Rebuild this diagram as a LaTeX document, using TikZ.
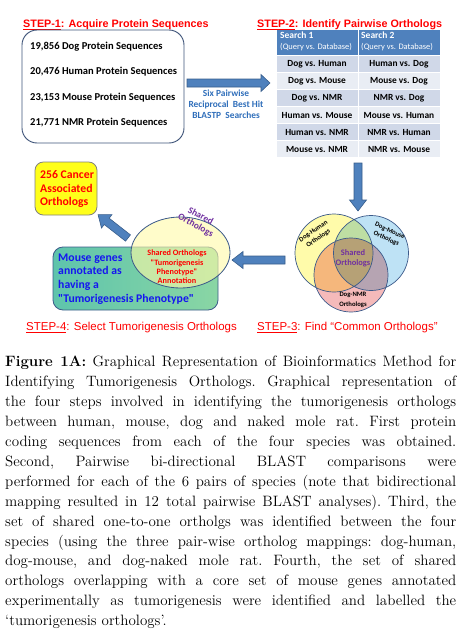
\documentclass[tikz,border=0pt]{standalone}
\usepackage{fontspec}
\usepackage{tikz}
\usetikzlibrary{positioning,calc}
\newfontfamily\calibfont{Carlito}
\newfontfamily\arialfont{Liberation Sans}
\definecolor{stepRed}{HTML}{FF0000}
\definecolor{boxEdge}{HTML}{3F5479}
\definecolor{arrowBlue}{HTML}{4F81BD}
\definecolor{arrowEdge}{HTML}{385D8A}
\definecolor{hitBlue}{HTML}{2F6EBA}
\definecolor{headBlue}{HTML}{4F81BD}
\definecolor{rowDark}{HTML}{D0D8E8}
\definecolor{rowLight}{HTML}{E9EDF4}
\definecolor{vennYellow}{HTML}{FFFBAA}
\definecolor{vennBlue}{HTML}{BEE2F5}
\definecolor{vennPink}{HTML}{F5BABA}
\definecolor{vennEdge}{HTML}{3C5A8A}
\definecolor{cancerYellow}{HTML}{FFFF1A}
\definecolor{mintLeft}{HTML}{5EC4AC}
\definecolor{mintRight}{HTML}{8AD6A4}
\definecolor{geneBlue}{HTML}{1515F0}
\definecolor{sharedPurple}{HTML}{7030A0}
% block arrow: tail, angle, length, head length
\newcommand{\blockarrow}[4]{%
  \draw[bigarrow,shift={#1},rotate=#2] (0,-4) -- ({#3-#4},-4) -- ({#3-#4},-8.5)
    -- (#3,0) -- ({#3-#4},8.5) -- ({#3-#4},4) -- (0,4) -- cycle;}

\begin{document}
\begin{tikzpicture}[x=0.03cm,y=-0.03cm,
  stepbold/.style={text=stepRed,inner sep=0,font=\arialfont\bfseries\fontsize{9.2}{11}\selectfont},
  stepplain/.style={text=stepRed,inner sep=0,font=\arialfont\fontsize{9.8}{11}\selectfont},
  seqtext/.style={inner sep=0,font=\calibfont\bfseries\fontsize{9}{10}\selectfont},
  hittext/.style={text=hitBlue,inner sep=0,align=center,font=\calibfont\bfseries\fontsize{8}{9.2}\selectfont},
  headtext/.style={text=white,inner sep=0,align=left,font=\calibfont\fontsize{7.2}{9.4}\selectfont},
  celltext/.style={inner sep=0,font=\calibfont\bfseries\fontsize{8}{9}\selectfont},
  bigarrow/.style={fill=arrowBlue,draw=arrowEdge,line width=0.5pt},
  vennline/.style={draw=vennEdge,line width=0.6pt},
  venntext/.style={inner sep=0,align=center,font=\calibfont\bfseries\fontsize{5.7}{7.2}\selectfont},
  caption/.style={inner sep=0,text width=13.53cm,align=justify,
    font=\frenchspacing\fontsize{12.8}{17}\selectfont}]
\useasboundingbox (0,0) rectangle (461,642);
% step 1: protein sequences
\node[stepbold,anchor=base west] (step1) at (23,27) {\underline{STEP-1}: Acquire Protein Sequences};
\draw[boxEdge,line width=0.8pt,rounded corners=4.5mm] (22,30) rectangle (184,143);
\node[seqtext,anchor=west] (dogseq) at (30,47) {19,856 Dog Protein Sequences};
\node[seqtext,anchor=west] (humseq) at (30,72) {20,476 Human Protein Sequences};
\node[seqtext,anchor=west] (mouseq) at (30,98) {23,153 Mouse Protein Sequences};
\node[seqtext,anchor=west] (nmrseq) at (30,123) {21,771 NMR Protein Sequences};
\blockarrow{(187,83)}{0}{83}{9}
\node[hittext] (blastp) at (226,104) {Six Pairwise\\Reciprocal~~Best Hit\\BLASTP~~Searches};
% step 2: table of searches
\node[stepbold,anchor=base west] (step2) at (257,27) {\underline{STEP-2}: Identify Pairwise Orthologs};
\fill[headBlue] (277,30) rectangle (357.5,55);
\fill[headBlue] (358.5,30) rectangle (440,55);
\node[headtext,anchor=north west] (search1) at (280,32) {{\bfseries\fontsize{8.1}{9.4}\selectfont Search 1}\\(Query vs. Database)};
\node[headtext,anchor=north west] (search2) at (361,32) {{\bfseries\fontsize{8.1}{9.4}\selectfont Search 2}\\(Query vs. Database)};
\foreach \a/\b/\c [count=\i] in {Dog vs. Human/Human vs. Dog/rowDark,
    Dog vs. Mouse/Mouse vs. Dog/rowLight, Dog vs. NMR/NMR vs. Dog/rowDark,
    Human vs. Mouse/Mouse vs. Human/rowLight, Human vs. NMR/NMR vs. Human/rowDark,
    Mouse vs. NMR/NMR vs. Mouse/rowLight}{
  \pgfmathsetmacro\yt{56+(\i-1)*17}
  \fill[\c] (277,\yt) rectangle (357.5,\yt+16);
  \fill[\c] (358.5,\yt) rectangle (440,\yt+16);
  \node[celltext] (qry\i) at (317,\yt+8) {\a};
  \node[celltext] (dbs\i) at (399,\yt+8) {\b};
}
\blockarrow{(358,163)}{-90}{48}{11}
% step 3: venn of orthologs
\begin{scope}[transparency group]
  \begin{scope}[blend mode=multiply]
    \fill[vennYellow] (334,253) circle (39);
    \fill[vennBlue] (371,253) circle (37.5);
    \fill[vennPink] (351,275) circle (37);
  \end{scope}
\end{scope}
\draw[vennline] (334,253) circle (39) (371,253) circle (37.5) (351,275) circle (37);
\node[venntext,rotate=35] (doghum) at (316,235) {Dog-Human\\Orthologs};
\node[venntext,rotate=-25] (dogmou) at (388,235) {Dog-Mouse\\Orthologs};
\node[venntext,font=\calibfont\bfseries\fontsize{5.7}{8.5}\selectfont] (dognmr) at (353,300) {Dog-NMR\\Orthologs};
\node[venntext,text=sharedPurple,font=\calibfont\bfseries\fontsize{7.2}{8.6}\selectfont] (shared) at (353,258) {Shared\\Orthologs};
\node[stepplain,anchor=base west] (step3) at (257,330) {\underline{STEP-3}: Find “Common Orthologs”};
\blockarrow{(285,260)}{180}{53}{11}
% step 4: tumorigenesis orthologs
\draw[draw=vennEdge,line width=0.7pt,left color=mintLeft,right color=mintRight,rounded corners=3mm] (53,247) rectangle (218,310);
\filldraw[fill=yellow!35,fill opacity=0.6,draw=vennEdge,line width=0.7pt] (180.5,252.5) ellipse [x radius=49.5,y radius=35.5];
\node[inner sep=0,align=left,anchor=west,text=geneBlue,font=\calibfont\bfseries\fontsize{10}{11.7}\selectfont] (mousegenes) at (58,279) {Mouse genes\\annotated as\\having a\\"Tumorigenesis Phenotype"};
\node[inner sep=0,align=center,text=stepRed,font=\calibfont\bfseries\fontsize{7}{8}\selectfont] (annot) at (177,267) {Shared Orthologs\\"Tumorigenesis\\Phenotype"\\Annotation};
\node[inner sep=0,align=center,rotate=-28,text=sharedPurple,font=\calibfont\bfseries\fontsize{8}{9}\selectfont] (sharedtop) at (198,221) {Shared\\Orthologs};
\draw[draw=gray,line width=0.7pt,fill=cancerYellow,rounded corners=2.5mm] (35,162) rectangle (97,215);
\node[inner sep=0,align=left,anchor=west,text=stepRed,font=\calibfont\bfseries\fontsize{10}{11.5}\selectfont] (cancer) at (40,189) {256 Cancer\\Associated\\Orthologs};
\blockarrow{(128,238)}{142}{38}{11}
\node[stepplain,anchor=base west] (step4) at (26,330) {\underline{STEP-4}: Select Tumorigenesis Orthologs};
% caption
\node[caption,anchor=north west] (figcap) at (5,356) {\textbf{Figure 1A:} Graphical Representation of Bioinformatics Method for\linebreak
Identifying Tumorigenesis Orthologs. Graphical representation of\linebreak
the four steps involved in identifying the tumorigenesis orthologs\linebreak
between human, mouse, dog and naked mole rat. First protein\linebreak
coding sequences from each of the four species was obtained.\linebreak
Second, Pairwise bi-directional BLAST comparisons were\linebreak
performed for each of the 6 pairs of species (note that bidirectional\linebreak
mapping resulted in 12 total pairwise BLAST analyses). Third, the\linebreak
set of shared one-to-one ortholgs was identified between the four\linebreak
species (using the three pair-wise ortholog mappings: dog-human,\linebreak
dog-mouse, and dog-naked mole rat. Fourth, the set of shared\linebreak
orthologs overlapping with a core set of mouse genes annotated\linebreak
experimentally as tumorigenesis were identified and labelled the\linebreak
`tumorigenesis orthologs'.};
\end{tikzpicture}
\end{document}
